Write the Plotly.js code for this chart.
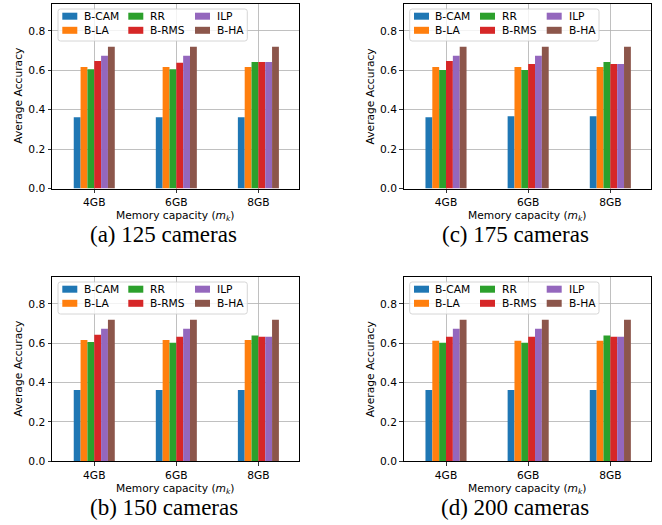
<!DOCTYPE html>
<html><head><meta charset="utf-8">
<script src="https://cdn.plot.ly/plotly-3.0.1.min.js"></script>
<style>html,body{margin:0;padding:0;background:#fff;}</style>
</head><body><div id="chart" style="width:662px;height:525px;"></div>
<script>
const categories = ['4GB', '6GB', '8GB'];
const seriesNames = ['B-CAM', 'B-LA', 'RR', 'B-RMS', 'ILP', 'B-HA'];
const seriesColors = ['#1f77b4', '#ff7f0e', '#2ca02c', '#d62728', '#9467bd', '#8c564b'];
const yTickVals = [0, 0.2, 0.4, 0.6, 0.8];
const yTitle = 'Average Accuracy';
const xTitle = 'Memory capacity (<i>m</i><sub><i>k</i></sub>)';
const captions = ['(a) 125 cameras', '(c) 175 cameras', '(b) 150 cameras', '(d) 200 cameras'];

// rows = series (B-CAM, B-LA, RR, B-RMS, ILP, B-HA), columns = categories
const acc125 = [
  [0.362, 0.362, 0.362],
  [0.617, 0.617, 0.617],
  [0.606, 0.606, 0.642],
  [0.647, 0.638, 0.642],
  [0.674, 0.674, 0.642],
  [0.720, 0.720, 0.720]
];
const acc175 = [
  [0.362, 0.367, 0.367],
  [0.617, 0.617, 0.617],
  [0.602, 0.602, 0.642],
  [0.647, 0.632, 0.632],
  [0.674, 0.674, 0.632],
  [0.720, 0.720, 0.720]
];
const acc150 = [
  [0.362, 0.362, 0.362],
  [0.617, 0.617, 0.617],
  [0.607, 0.603, 0.639],
  [0.643, 0.633, 0.633],
  [0.674, 0.674, 0.633],
  [0.720, 0.720, 0.720]
];
const acc200 = [
  [0.362, 0.362, 0.362],
  [0.613, 0.613, 0.613],
  [0.603, 0.603, 0.639],
  [0.633, 0.633, 0.633],
  [0.674, 0.674, 0.633],
  [0.720, 0.720, 0.720]
];
const panelData = [acc125, acc175, acc150, acc200];

// panel geometry in pixels (left, top, right, bottom)
const W = 662, H = 525;
const panels = [
  [52, 4, 299, 188.5],
  [403.7, 4, 651, 188.5],
  [52, 277, 299, 461.3],
  [403.7, 277, 651, 461.3]
];
const px = x => x / W;
const py = y => 1 - y / H;

const font = 'DejaVu Sans, sans-serif';
const fs = 10.7;
const traces = [];
const layout = {
  width: W, height: H,
  margin: {l: 0, r: 0, t: 0, b: 0},
  paper_bgcolor: '#ffffff', plot_bgcolor: '#ffffff',
  barmode: 'group', bargap: 0.5, bargroupgap: 0,
  showlegend: false,
  font: {family: font, size: fs, color: '#000'},
  shapes: [], annotations: []
};

panels.forEach((p, k) => {
  const [L, T, R, B] = p;
  const sfx = k === 0 ? '' : String(k + 1);
  const data = panelData[k];
  seriesNames.forEach((name, i) => {
    traces.push({
      type: 'bar', name: name, x: categories, y: data[i],
      xaxis: 'x' + sfx, yaxis: 'y' + sfx,
      marker: {color: seriesColors[i], line: {width: 0}},
      hoverinfo: 'skip'
    });
  });
  const common = {
    showline: true, mirror: true, linecolor: '#000', linewidth: 1,
    ticks: 'outside', ticklen: 3.5, tickwidth: 0.8, tickcolor: '#000',
    showgrid: true, gridcolor: '#b0b0b0', gridwidth: 0.8, zeroline: false,
    tickfont: {family: font, size: fs, color: '#000'}, fixedrange: true
  };
  layout['xaxis' + sfx] = Object.assign({}, common, {
    type: 'category', range: [-0.515, 2.495],
    domain: [px(L), px(R)], anchor: 'y' + sfx
  });
  layout['yaxis' + sfx] = Object.assign({}, common, {
    range: [0, 0.937], tickvals: yTickVals, tickformat: '.1f',
    domain: [py(B), py(T)], anchor: 'x' + sfx
  });
  // axis titles
  layout.annotations.push({
    xref: 'paper', yref: 'paper', x: px(L - 33.5), y: py((T + B) / 2),
    text: yTitle, textangle: -90, showarrow: false,
    xanchor: 'center', yanchor: 'middle', font: {family: font, size: fs, color: '#000'}
  });
  layout.annotations.push({
    xref: 'paper', yref: 'paper', x: px((L + R) / 2), y: py(B + 27.5),
    text: xTitle, showarrow: false, borderpad: 0,
    xanchor: 'center', yanchor: 'middle', font: {family: font, size: fs, color: '#000'}
  });
  // caption
  layout.annotations.push({
    xref: 'paper', yref: 'paper', x: px((L + R) / 2 - 12), y: py(B + 46),
    text: captions[k], showarrow: false, borderpad: 0,
    xanchor: 'center', yanchor: 'middle',
    font: {family: 'Liberation Serif, Times New Roman, serif', size: 23, color: '#000'}
  });
  // legend frame (rounded)
  const x0 = L + 6, x1 = L + 195.3, y0 = T + 5, y1 = T + 37, r = 2.5;
  const path = `M${px(x0 + r)},${py(y0)} L${px(x1 - r)},${py(y0)} Q${px(x1)},${py(y0)} ${px(x1)},${py(y0 + r)} ` +
    `L${px(x1)},${py(y1 - r)} Q${px(x1)},${py(y1)} ${px(x1 - r)},${py(y1)} ` +
    `L${px(x0 + r)},${py(y1)} Q${px(x0)},${py(y1)} ${px(x0)},${py(y1 - r)} ` +
    `L${px(x0)},${py(y0 + r)} Q${px(x0)},${py(y0)} ${px(x0 + r)},${py(y0)} Z`;
  layout.shapes.push({
    type: 'path', xref: 'paper', yref: 'paper', path: path,
    fillcolor: 'rgba(255,255,255,0.8)', line: {color: '#cccccc', width: 0.8}, layer: 'above'
  });
  const colPatch = [10.3, 76.3, 143];
  const colText = [30.7, 97.3, 164];
  const rowY = [12.2, 26.3];
  seriesNames.forEach((name, i) => {
    const c = Math.floor(i / 2), rr = i % 2;
    const xs = L + colPatch[c], yc = T + rowY[rr];
    layout.shapes.push({
      type: 'rect', xref: 'paper', yref: 'paper',
      x0: px(xs), x1: px(xs + 15), y0: py(yc - 3.5), y1: py(yc + 3.5),
      fillcolor: seriesColors[i], line: {width: 0}, layer: 'above'
    });
    layout.annotations.push({
      xref: 'paper', yref: 'paper', x: px(L + colText[c] - 1), y: py(yc),
      text: name, showarrow: false, xanchor: 'left', yanchor: 'middle',
      font: {family: font, size: fs, color: '#000'}
    });
  });
});

Plotly.newPlot('chart', traces, layout, {staticPlot: true, displayModeBar: false});
</script></body></html>
